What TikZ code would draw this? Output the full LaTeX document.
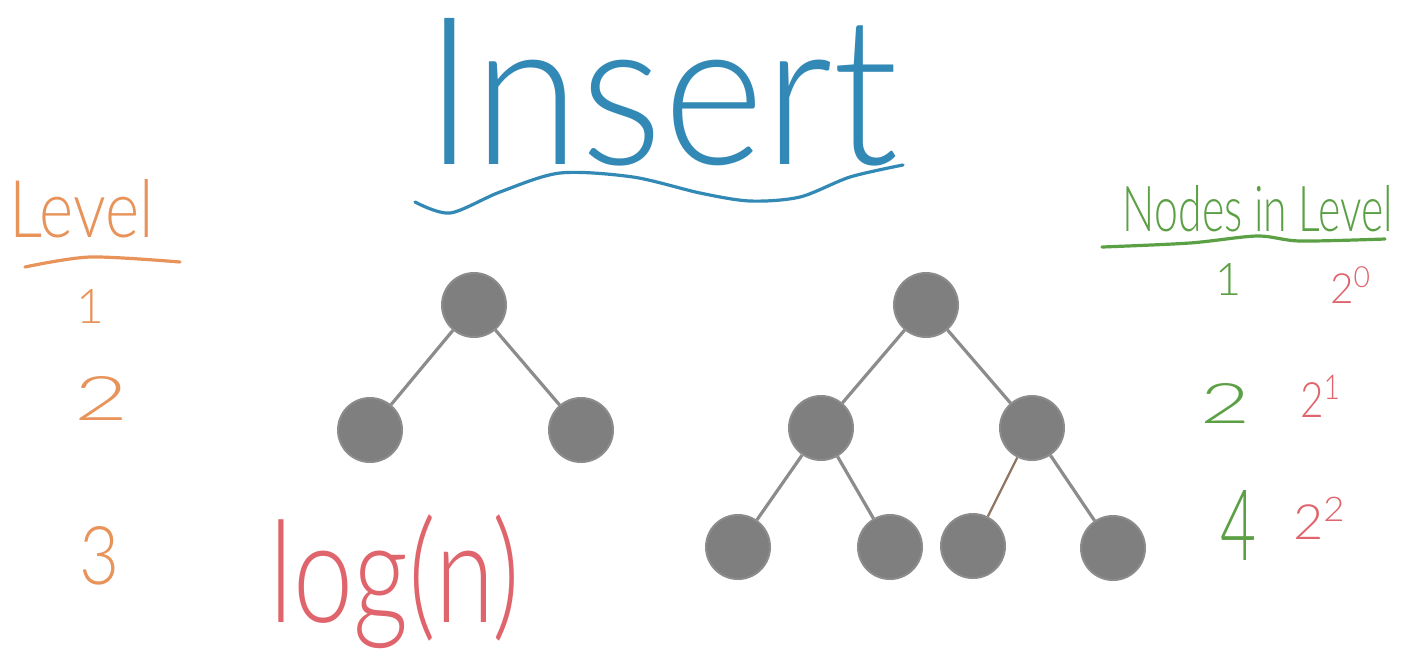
\documentclass[tikz,border=0pt]{standalone}
\usepackage{fontspec}
\setmainfont{Lato Light}
\usepackage{graphicx}
\definecolor{inkblue}{HTML}{3389B5}
\definecolor{inkorange}{HTML}{E8935A}
\definecolor{inkgreen}{HTML}{5CA046}
\definecolor{inkred}{HTML}{E0646C}
\definecolor{ballgray}{HTML}{7F7F7F}
\definecolor{ballrim}{HTML}{8C8C8C}
\definecolor{edgegray}{HTML}{8C8C8C}
\definecolor{edgebrown}{HTML}{8F7562}
\begin{document}
\begin{tikzpicture}[x=0.5pt,y=-0.5pt,
  ball/.style={circle,fill=ballgray,draw=ballrim,line width=1pt,minimum size=32pt,inner sep=0pt},
  branch/.style={draw=edgegray,line width=1.6pt},
  ink/.style={line width=1.6pt,line cap=round},
  lbl/.style={inner sep=0pt,outer sep=0pt}]
\fill[white] (0,0) rectangle (1417,655);
\useasboundingbox (0,0) rectangle (1417,655);

% title
\node[lbl,text=inkblue] (title) at (662,92) {\resizebox{237pt}{73pt}{Insert}};
\draw[ink,draw=inkblue] plot[smooth] coordinates {(415,202) (450,213) (500,192) (560,173) (633,177) (700,193) (750,201) (800,197) (850,177) (903,165)};

% level column
\node[lbl,text=inkorange] (levhead) at (82,209) {\resizebox{72pt}{29pt}{Level}};
\draw[ink,draw=inkorange] plot[smooth] coordinates {(25,267) (90,257) (180,262)};
\node[lbl,text=inkorange] (lev1) at (90,306) {\resizebox{!}{17pt}{1}};
\node[lbl,text=inkorange] (lev2) at (102,398) {\resizebox{27pt}{22pt}{2}};
\node[lbl,text=inkorange] (lev3) at (100,556) {\resizebox{20pt}{29pt}{3}};

% nodes per level column
\node[lbl,text=inkgreen] (cnthead) at (1258,209) {\resizebox{135pt}{23pt}{Nodes in Level}};
\draw[ink,draw=inkgreen] plot[smooth] coordinates {(1102,247) (1190,243) (1257,236) (1300,241) (1385,239)};
\node[lbl,text=inkgreen] (cnt1) at (1229,279) {\resizebox{!}{16pt}{1}};
\node[lbl,text=inkgreen] (cnt2) at (1225,403) {\resizebox{25pt}{20pt}{2}};
\node[lbl,text=inkgreen] (cnt4) at (1238,525) {\resizebox{18pt}{35pt}{4}};
\node[lbl,text=inkred] (pow0) at (1351,285) {\resizebox{21pt}{18pt}{2\textsuperscript{0}}};
\node[lbl,text=inkred] (pow1) at (1321,396) {\resizebox{21pt}{21pt}{2\textsuperscript{1}}};
\node[lbl,text=inkred] (pow2) at (1320,518) {\resizebox{27pt}{21pt}{2\textsuperscript{2}}};

% height of the tree
\node[lbl,text=inkred] (height) at (395,582) {\resizebox*{125pt}{67pt}{log(n)}};

% small tree
\node[ball] (s) at (474,305) {};
\node[ball] (sl) at (370,430) {};
\node[ball] (sr) at (581,430) {};
\draw[branch] (s) -- (sl);
\draw[branch] (s) -- (sr);

% large tree
\node[ball] (r) at (926,305) {};
\node[ball] (a) at (821,428) {};
\node[ball] (b) at (1032,428) {};
\node[ball] (aa) at (738,547) {};
\node[ball] (ab) at (890,547) {};
\node[ball] (ba) at (973,546) {};
\node[ball] (bb) at (1113,548) {};
\draw[branch] (r) -- (a);
\draw[branch] (r) -- (b);
\draw[branch] (a) -- (aa);
\draw[branch] (a) -- (ab);
\draw[branch,draw=edgebrown,line width=1.1pt] (b) -- (ba);
\draw[branch] (b) -- (bb);
\end{tikzpicture}
\end{document}
